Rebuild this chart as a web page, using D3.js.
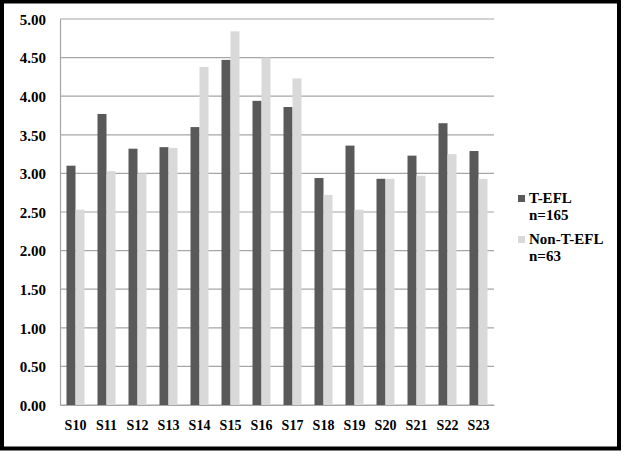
<!DOCTYPE html>
<html>
<head>
<meta charset="utf-8">
<script src="https://cdn.jsdelivr.net/npm/d3@7"></script>
<style>
    body { margin: 0; background: #fff; }
</style>
</head>
<body>
<div id="chart"></div>
<script>
let categories = ["S10", "S11", "S12", "S13", "S14", "S15", "S16", "S17", "S18", "S19", "S20", "S21", "S22", "S23"];
let tefl = [3.10, 3.77, 3.32, 3.34, 3.60, 4.47, 3.94, 3.86, 2.94, 3.36, 2.93, 3.23, 3.65, 3.29];
let nonTefl = [2.53, 3.03, 3.00, 3.33, 4.38, 4.84, 4.50, 4.23, 2.72, 2.53, 2.93, 2.97, 3.25, 2.93];
let seriesNames = ["T-EFL", "Non-T-EFL"];
let seriesCounts = ["n=165", "n=63"];
let yTicks = [0, 0.5, 1, 1.5, 2, 2.5, 3, 3.5, 4, 4.5, 5];

let colors = ["#595959", "#d9d9d9"];
let serif = "'Liberation Serif', 'Times New Roman', Times, serif";

let width = 625, height = 455;
let margin = {top: 19, left: 60, right: 131, bottom: 50};

let svg = d3.select("#chart").append("svg")
    .attr("width", width)
    .attr("height", height);

// outer frame
svg.append("rect")
    .attr("x", 2).attr("y", 1.5)
    .attr("width", 617).attr("height", 447)
    .attr("fill", "none")
    .attr("stroke", "#000")
    .attr("stroke-width", 4);

let plotW = width - margin.left - margin.right;

let xScale = d3.scaleBand()
    .domain(categories)
    .range([margin.left, margin.left + plotW]);

let yScale = d3.scaleLinear()
    .domain([0, 5])
    .range([405, margin.top]);

// gridlines
svg.append("g")
    .selectAll("line")
    .data(yTicks)
    .enter().append("line")
    .attr("x1", margin.left)
    .attr("x2", margin.left + plotW)
    .attr("y1", d => yScale(d))
    .attr("y2", d => yScale(d))
    .attr("stroke", "#a6a6a6")
    .attr("stroke-width", 1.2);

// y axis
let yAxis = svg.append("g")
    .attr("transform", "translate(" + margin.left + ",0)")
    .call(d3.axisLeft(yScale).tickValues(yTicks).tickFormat(d3.format(".2f")).tickSize(0).tickPadding(14));
yAxis.select(".domain").attr("stroke", "#a6a6a6").attr("stroke-width", 1.2);
yAxis.selectAll("text")
    .style("font-family", serif)
    .style("font-weight", "bold")
    .style("font-size", "15px")
    .attr("fill", "#000")
    .attr("dy", "0.35em");

// bars
let barW = 9;
let groups = svg.append("g")
    .selectAll("g")
    .data(categories)
    .enter().append("g")
    .attr("transform", d => "translate(" + (xScale(d) + xScale.bandwidth() / 2) + ",0)");

groups.append("rect")
    .attr("x", -barW)
    .attr("width", barW)
    .attr("y", (d, i) => yScale(tefl[i]))
    .attr("height", (d, i) => yScale(0) - yScale(tefl[i]))
    .attr("fill", colors[0]);

groups.append("rect")
    .attr("x", 0)
    .attr("width", barW)
    .attr("y", (d, i) => yScale(nonTefl[i]))
    .attr("height", (d, i) => yScale(0) - yScale(nonTefl[i]))
    .attr("fill", colors[1]);

// x axis
let xAxis = svg.append("g")
    .attr("transform", "translate(0," + yScale(0) + ")")
    .call(d3.axisBottom(xScale).tickSize(0).tickPadding(15));
xAxis.select(".domain").attr("stroke", "#a6a6a6").attr("stroke-width", 1.2);
xAxis.selectAll("text")
    .style("font-family", serif)
    .style("font-weight", "bold")
    .style("font-size", "14px")
    .attr("fill", "#000");

// legend
let legend = svg.append("g")
    .selectAll("g")
    .data(seriesNames)
    .enter().append("g")
    .attr("transform", (d, i) => "translate(518," + (203 + i * 41) + ")");

legend.append("rect")
    .attr("x", 0).attr("y", -8)
    .attr("width", 7).attr("height", 7)
    .attr("fill", (d, i) => colors[i]);

legend.append("text")
    .attr("x", 11)
    .style("font-family", serif)
    .style("font-weight", "bold")
    .style("font-size", "15px")
    .text(d => d);

legend.append("text")
    .attr("x", 11)
    .attr("y", 17)
    .style("font-family", serif)
    .style("font-weight", "bold")
    .style("font-size", "15px")
    .text((d, i) => seriesCounts[i]);
</script>
</body>
</html>
